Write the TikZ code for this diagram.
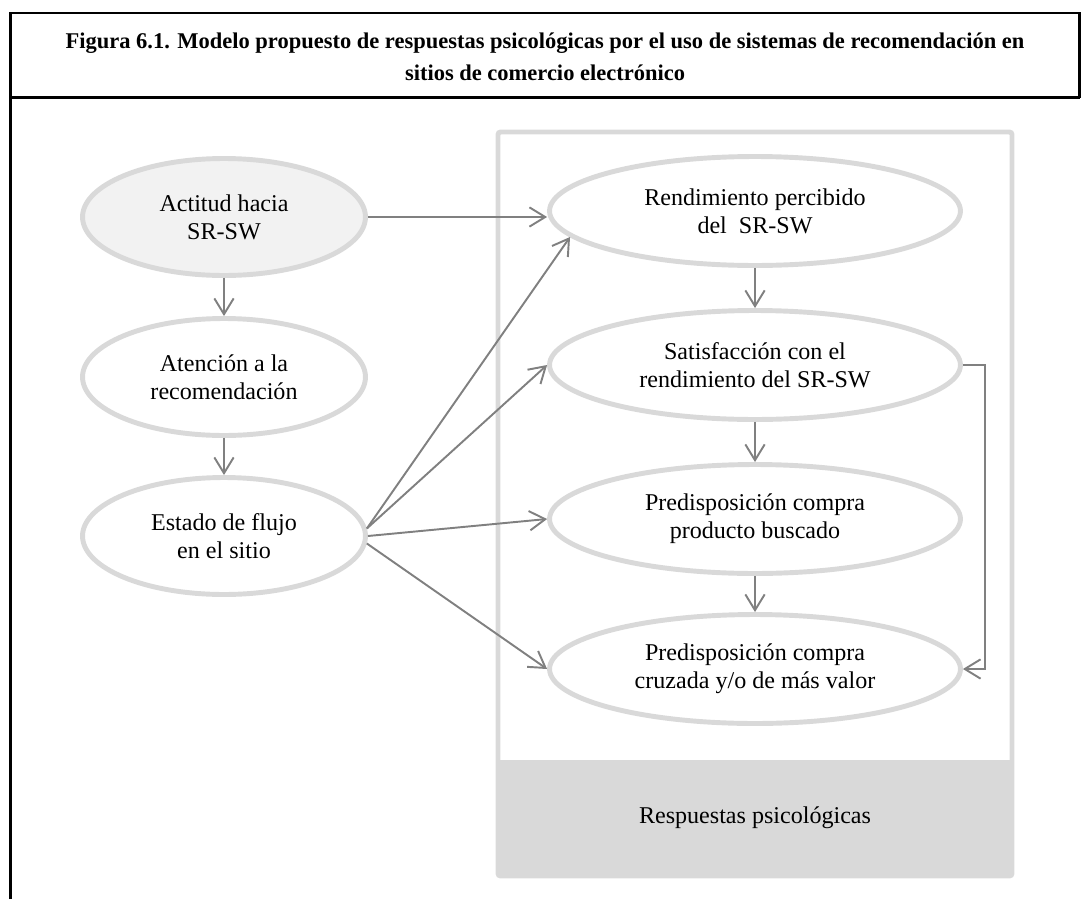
\documentclass[tikz,border=0pt]{standalone}
\usepackage{fontspec}
\setmainfont{Liberation Serif}
\usepackage{xcolor}
\definecolor{ringgray}{HTML}{D9D9D9}
\definecolor{softgray}{HTML}{F2F2F2}
\definecolor{arrowgray}{HTML}{808080}
\usetikzlibrary{arrows.meta,positioning,calc,shapes.geometric}

\begin{document}
\begin{tikzpicture}[
        x=0.02cm, y=-0.02cm,
        font=\fontsize{13.7}{16}\selectfont,
        leftvar/.style  = {ellipse, draw=ringgray, line width=2.8pt, fill=white,
                           align=center, inner sep=0pt,
                           minimum width=5.66cm, minimum height=2.34cm},
        rightvar/.style = {ellipse, draw=ringgray, line width=2.8pt, fill=white,
                           align=center, inner sep=0pt,
                           minimum width=8.22cm, minimum height=2.18cm},
        frameline/.style = {black, line width=1.7pt},
        path/.style = {-{Straight Barb[length=9pt,width=11pt,line width=1.1pt]},
                       arrowgray, line width=1.1pt}
    ]
        \useasboundingbox (0,0) rectangle (1081,899);

        % ---- Frame and title ----
        \draw[frameline] (10.5,899) -- (10.5,13) -- (1079.5,13) -- (1079.5,97.5);
        \draw[frameline] (10.5,97.5) -- (1079.5,97.5);
        \node[font=\bfseries\fontsize{12.8}{18}\selectfont, align=center] (title) at (545,57)
            {Figura 6.1. Modelo propuesto de respuestas psicológicas por el uso de sistemas de recomendación en\\
             sitios de comercio electrónico};

        % ---- Group box ----
        \fill[ringgray] (498,760) rectangle (1012,876);
        \draw[ringgray, line width=2.8pt, rounded corners=1.5pt] (498,132) rectangle (1012,876);
        \node (grp) at (755,818) {Respuestas psicológicas};

        % ---- Left column ----
        \node[leftvar, fill=softgray] (act) at (224,217) {Actitud hacia\\SR-SW};
        \node[leftvar] (atn) at (224,377) {Atención a la\\recomendación};
        \node[leftvar] (est) at (224,536) {Estado de flujo\\en el sitio};

        % ---- Right column ----
        \node[rightvar] (rend) at (755,211) {Rendimiento percibido\\del~ SR-SW};
        \node[rightvar] (sat)  at (755,365) {Satisfacción con el\\rendimiento del SR-SW};
        \node[rightvar] (prod) at (755,519) {Predisposición compra\\producto buscado};
        \node[rightvar] (cruz) at (755,669) {Predisposición compra\\cruzada y/o de más valor};

        % ---- Links ----
        \draw[path] (act.east) -- (act.east -| rend.west);
        \draw[path] (act) -- (atn);
        \draw[path] (atn) -- (est);
        \draw[path] (rend) -- (sat);
        \draw[path] (sat) -- (prod);
        \draw[path] (prod) -- (cruz);
        \draw[path] (est.3) -- (rend.188);
        \draw[path] (est.3) -- (sat.west);
        \draw[path] (est.east) -- (prod.west);
        \draw[path] (est.-3) -- (cruz.west);
        \draw[path] (sat.east) -- ++(22,0) |- (cruz.east);
    \end{tikzpicture}
\end{document}
